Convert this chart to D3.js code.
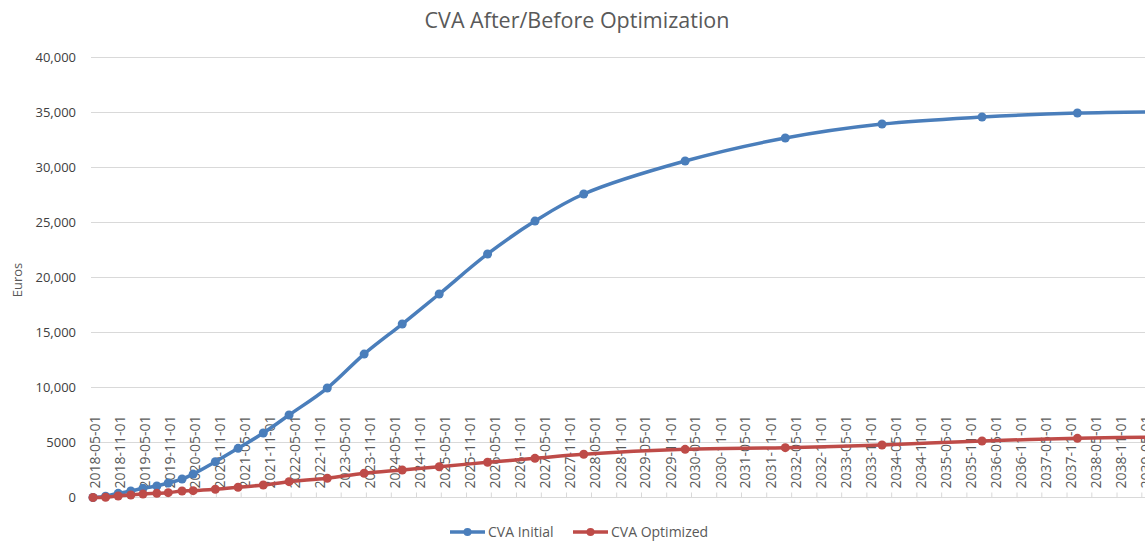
<!DOCTYPE html>
<html>
<head>
<meta charset="utf-8">
<script src="https://cdn.jsdelivr.net/npm/d3@7"></script>
<style>
  body { margin: 0; background: #fff; }
  svg { display: block; font-family: "Open Sans", sans-serif; }
</style>
</head>
<body>
<svg id="chart"></svg>
<script>
// valuation dates of the exposure profile
var dates = ["2018-05-01","2018-08-01","2018-11-01","2019-02-01","2019-05-01","2019-08-10",
             "2019-11-01","2020-02-10","2020-05-01","2020-10-10","2021-03-25","2021-09-25",
             "2022-04-01","2023-01-05","2023-10-01","2024-07-05","2025-04-01","2026-03-20",
             "2027-03-01","2028-02-20","2030-03-01","2032-03-01","2034-02-05","2036-02-05",
             "2038-01-01","2040-01-01"]

var cvaInitial = [0, 120, 380, 590, 840, 1050, 1320, 1680, 2130, 3250, 4470, 5860,
                  7500, 9950, 13040, 15770, 18500, 22140, 25130, 27590, 30590, 32680,
                  33950, 34590, 34950, 35080]

var cvaOptimized = [0, 20, 140, 230, 320, 380, 440, 590, 620, 750, 930, 1140,
                    1440, 1750, 2200, 2500, 2800, 3200, 3560, 3930, 4380, 4530,
                    4770, 5140, 5380, 5520]

var seriesNames = ["CVA Initial", "CVA Optimized"]

var yTicks = [0, 5000, 10000, 15000, 20000, 25000, 30000, 35000, 40000]
var yTickLabels = ["0", "5000", "10,000", "15,000", "20,000", "25,000", "30,000", "35,000", "40,000"]

var xTickLabels = ["2018-05-01","2018-11-01","2019-05-01","2019-11-01","2020-05-01","2020-11-01",
                   "2021-05-01","2021-11-01","2022-05-01","2022-11-01","2023-05-01","2023-11-01",
                   "2024-05-01","2024-11-01","2025-05-01","2025-11-01","2026-05-01","2026-11-01",
                   "2027-05-01","2027-11-01","2028-05-01","2028-11-01","2029-05-01","2029-11-01",
                   "2030-05-01","2030-11-01","2031-05-01","2031-11-01","2032-05-01","2032-11-01",
                   "2033-05-01","2033-11-01","2034-05-01","2034-11-01","2035-05-01","2035-11-01",
                   "2036-05-01","2036-11-01","2037-05-01","2037-11-01","2038-05-01","2038-11-01",
                   "2039-05-01"]

var dimensions = {
    width: 1145,
    height: 543,
    margin: { top: 57.5, bottom: 45.5, left: 91, right: 0 }
}

var parse = d3.timeParse("%Y-%m-%d")

var svg = d3.select("#chart")
    .attr("width", dimensions.width)
    .attr("height", dimensions.height)

var xScale = d3.scaleTime()
    .domain([parse("2018-05-01"), parse("2039-05-01")])
    .range([93, 93 + 42 * 25.02])

var yScale = d3.scaleLinear()
    .domain([0, 40000])
    .range([dimensions.height - dimensions.margin.bottom, dimensions.margin.top])

// gridlines
svg.append("g")
    .selectAll("line")
    .data(yTicks)
    .join("line")
    .attr("x1", dimensions.margin.left)
    .attr("x2", dimensions.width)
    .attr("y1", d => yScale(d))
    .attr("y2", d => yScale(d))
    .attr("stroke", "#d9d9d9")
    .attr("stroke-width", 1.2)

// y axis
var yAxisGen = d3.axisLeft(yScale)
    .tickValues(yTicks)
    .tickSize(0)
    .tickPadding(15)
    .tickFormat((d, i) => yTickLabels[i])

var yAxis = svg.append("g")
    .attr("transform", `translate(${dimensions.margin.left},0)`)
    .call(yAxisGen)
yAxis.select(".domain").remove()
yAxis.selectAll("text")
    .attr("fill", "#404040")
    .style("font-size", "13px")
    .style("font-family", "Open Sans")

// x axis ticks + rotated labels (last one runs off the edge like the original)
var xg = svg.append("g")
var baseY = yScale(0)
xg.selectAll("line")
    .data(xTickLabels)
    .join("line")
    .attr("x1", d => xScale(parse(d)) - 2)
    .attr("x2", d => xScale(parse(d)) - 2)
    .attr("y1", baseY - 5)
    .attr("y2", baseY)
    .attr("stroke", "#d9d9d9")
    .attr("stroke-width", 1)

xg.selectAll("text")
    .data(xTickLabels)
    .join("text")
    .attr("transform", d => `translate(${xScale(parse(d)) + 2},${baseY - 9}) rotate(-90)`)
    .attr("dy", "0.35em")
    .attr("text-anchor", "start")
    .attr("fill", "#595959")
    .style("font-size", "14px")
    .text(d => d)

// series
var colors = ["#4a7ebb", "#be4b48"]
var series = [cvaInitial, cvaOptimized]

series.forEach(function(values, s) {
    var pts = values.map((v, i) => ({ date: parse(dates[i]), value: v }))
    var line = d3.line()
        .x(d => xScale(d.date))
        .y(d => yScale(d.value))
        .curve(d3.curveCatmullRom.alpha(0.5))

    svg.append("path")
        .datum(pts)
        .attr("d", line)
        .attr("fill", "none")
        .attr("stroke", colors[s])
        .attr("stroke-width", 3.5)
        .attr("stroke-linejoin", "round")

    svg.append("g")
        .selectAll("circle")
        .data(pts)
        .join("circle")
        .attr("cx", d => xScale(d.date))
        .attr("cy", d => yScale(d.value))
        .attr("r", 4.5)
        .attr("fill", colors[s])
})

// title
svg.append("text")
    .attr("x", 577)
    .attr("y", 28)
    .attr("text-anchor", "middle")
    .attr("fill", "#595959")
    .style("font-size", "21.5px")
    .text("CVA After/Before Optimization")

// y axis title
svg.append("text")
    .attr("transform", "translate(22,280) rotate(-90)")
    .attr("text-anchor", "middle")
    .attr("fill", "#595959")
    .style("font-size", "13px")
    .text("Euros")

// legend
var legendX = [450, 573]
var legend = svg.append("g")
seriesNames.forEach(function(name, i) {
    var g = legend.append("g").attr("transform", `translate(${legendX[i]},532)`)
    g.append("line")
        .attr("x1", 0).attr("x2", 35)
        .attr("stroke", colors[i])
        .attr("stroke-width", 3.5)
    g.append("circle")
        .attr("cx", 17.5)
        .attr("r", 4)
        .attr("fill", colors[i])
    g.append("text")
        .attr("x", 38)
        .attr("dy", "0.35em")
        .attr("fill", "#595959")
        .style("font-size", "14px")
        .text(name)
})
</script>
</body>
</html>
